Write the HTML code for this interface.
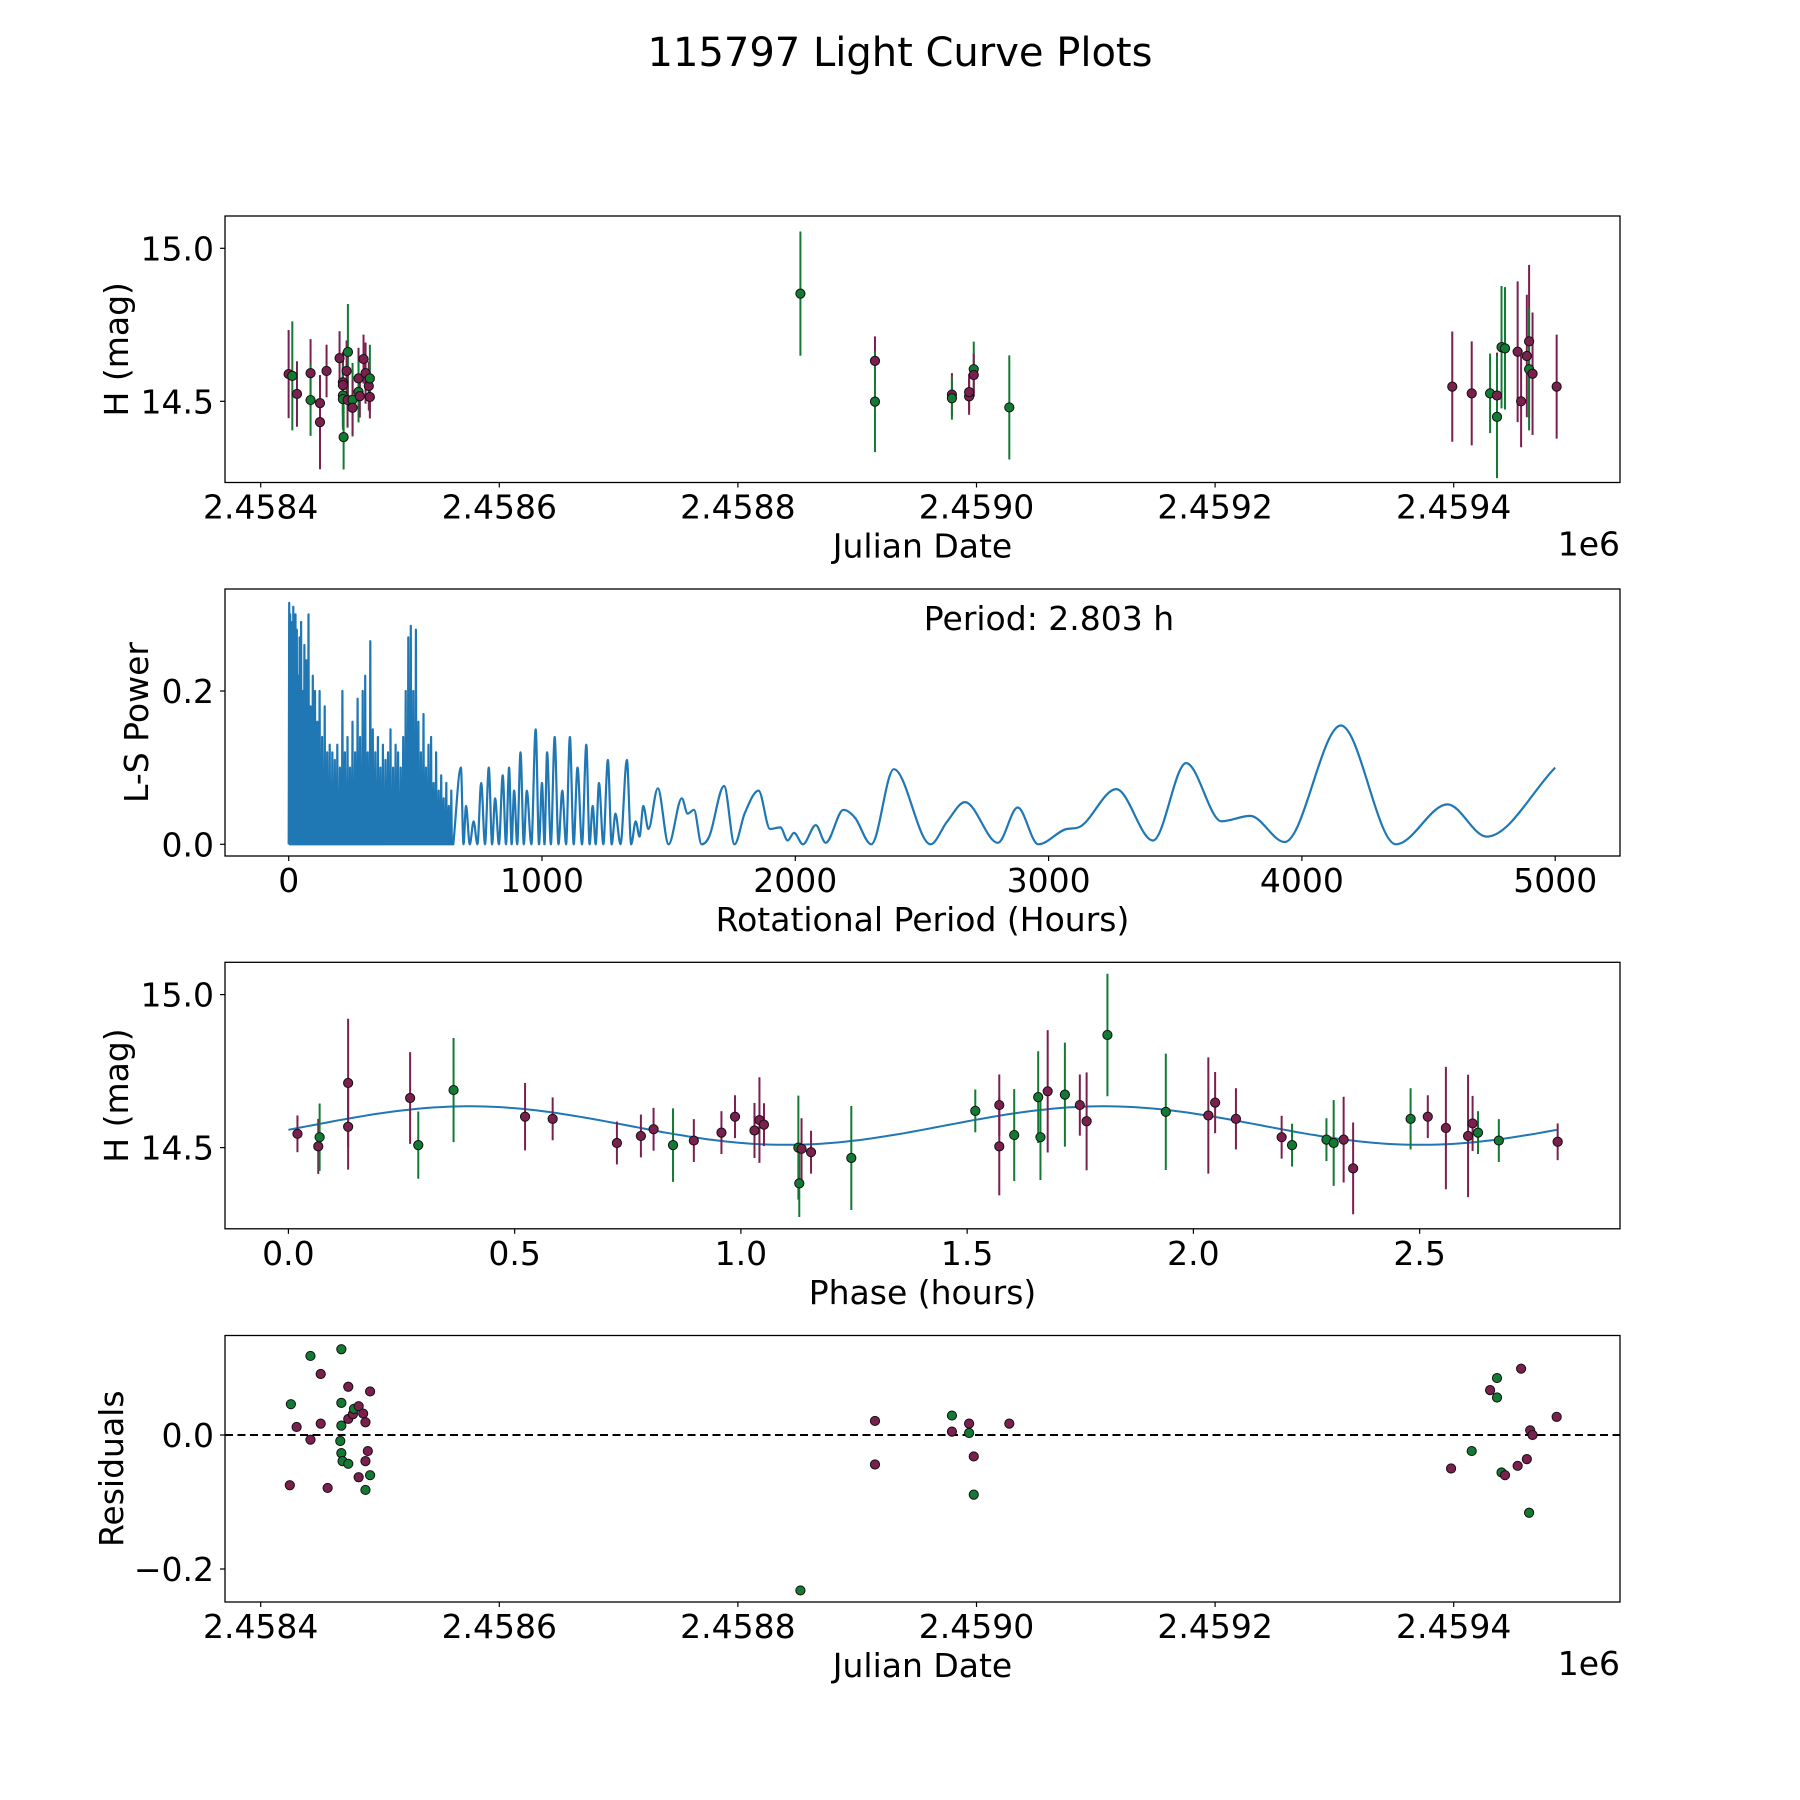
<!DOCTYPE html>
<html><head><meta charset="utf-8"><style>
html,body{margin:0;padding:0;background:#fff}
svg{display:block}
text{font-family:"DejaVu Sans","Liberation Sans",sans-serif;fill:#000}
</style></head><body>
<svg id="fig" xmlns="http://www.w3.org/2000/svg" width="1800" height="1800" viewBox="0 0 1800 1800">
<rect width="1800" height="1800" fill="#fff"/>
<text x="900" y="66" font-size="40" text-anchor="middle">115797 Light Curve Plots</text>
</svg>
<script>
// ---------- DATA ----------
// Panel 1: light curve (days since JD 2458400)
const lcDay = [23.4,26.5,30.4,41.8,41.8,49.7,49.7,55.2,66.1,68.9,68.9,68.9,68.9,69.5,73.1,72.0,72.8,77.0,77.0,82.0,82.0,83.1,86.2,87.9,90.6,91.5,91.5,
452.4,514.9,514.9,579.4,579.4,593.8,593.8,597.7,597.7,627.5,
998.8,1015.1,1030.5,1036.3,1036.3,1040.1,1043.0,1053.6,1056.5,1061.3,1063.2,1063.2,1066.1,1086.3];
const lcMag = [14.589,14.583,14.524,14.592,14.504,14.494,14.432,14.599,14.641,14.562,14.553,14.519,14.507,14.383,14.661,14.599,14.504,14.505,14.479,14.575,14.531,14.517,14.638,14.592,14.550,14.575,14.514,
14.852,14.632,14.499,14.522,14.510,14.516,14.530,14.605,14.586,14.480,
14.548,14.526,14.526,14.519,14.449,14.677,14.673,14.662,14.5,14.648,14.696,14.605,14.590,14.548];
const lcErr = [0.144,0.178,0.107,0.111,0.117,0.09,0.154,0.086,0.088,0.1,0.1,0.1,0.1,0.106,0.157,0.1,0.09,0.12,0.09,0.1,0.1,0.07,0.08,0.1,0.08,0.11,0.07,
0.203,0.08,0.165,0.07,0.07,0.06,0.06,0.09,0.07,0.17,
0.18,0.17,0.13,0.14,0.2,0.2,0.2,0.23,0.15,0.2,0.25,0.2,0.2,0.17];
const lcBand = "mgmmgmmmmmmggggmmgmmgmmmmgmgmgmgmmgmgmmgmgggmmmmgmm";

// Panel 2: Lomb-Scargle periodogram
const denseP = [2,6,10,14,18,22,27,32,37,43,49,55,62,70,78,86,95,104,113,122,132,142,152,162,172,182,192,202,212,222,232,242,252,262,272,282,292,302,312,322,332,342,352,362,372,382,392,402,412,422,432,442,452,462,472,482,492,502,512,522,532,542,552,562,572,582,592,602,612,622,632,642];
const denseW = [0.315,0.30,0.29,0.27,0.31,0.25,0.30,0.28,0.22,0.27,0.29,0.20,0.26,0.24,0.30,0.18,0.22,0.20,0.16,0.20,0.14,0.18,0.12,0.13,0.12,0.11,0.13,0.10,0.20,0.12,0.14,0.10,0.16,0.12,0.19,0.14,0.20,0.22,0.12,0.265,0.15,0.12,0.14,0.10,0.13,0.11,0.12,0.15,0.10,0.13,0.12,0.10,0.14,0.20,0.27,0.285,0.20,0.28,0.16,0.12,0.17,0.10,0.13,0.14,0.08,0.12,0.07,0.09,0.06,0.08,0.05,0.07];
const lsPeriod = [650,680,690,700,715,730,745,760,775,790,803,815,830,845,858,870,880,890,902,915,928,940,958,975,988,1000,1010,1020,1035,1050,1065,1080,1095,1110,1125,1140,1158,1175,1188,1200,1212,1225,1242,1260,1275,1290,1310,1335,1352,1370,1385,1400,1420,1457,1500,1552,1575,1600,1630,1660,1719,1760,1800,1855,1900,1941,1970,1995,2030,2081,2120,2190,2235,2300,2389,2534,2600,2670,2800,2878,2959,3072,3118,3267,3412,3543,3683,3796,3932,4154,4371,4575,4729,5000];
const lsPower = [0,0.10,0,0.05,0,0.03,0,0.08,0,0.10,0,0.06,0,0.09,0,0.10,0,0.07,0,0.12,0,0.07,0,0.15,0,0.08,0,0.12,0,0.14,0,0.07,0,0.14,0,0.10,0,0.13,0,0.05,0,0.08,0,0.11,0,0.04,0,0.11,0,0.03,0.01,0.05,0.02,0.073,0,0.06,0.04,0.045,0,0.01,0.076,0,0.04,0.07,0.02,0.022,0.005,0.015,0,0.025,0.002,0.045,0.035,0,0.098,0,0.03,0.055,0.002,0.048,0,0.02,0.022,0.072,0.005,0.106,0.03,0.037,0.003,0.155,0,0.052,0.01,0.10];
const bestPeriod = 2.803;

// Panel 3: phase-folded
const phHour = [0.020,0.066,0.069,0.132,0.132,0.269,0.287,0.365,0.523,0.584,0.726,0.779,0.807,0.850,0.896,0.957,0.987,1.030,1.041,1.051,1.127,1.134,1.129,1.155,1.244,1.518,1.571,1.571,1.604,1.657,1.662,1.678,1.716,1.749,1.764,1.810,1.939,2.033,2.048,2.094,2.195,2.218,2.294,2.310,2.332,2.353,2.480,2.518,2.558,2.607,2.617,2.629,2.675,2.805];
const phMag = [14.545,14.504,14.534,14.711,14.568,14.662,14.508,14.688,14.601,14.594,14.515,14.538,14.560,14.508,14.523,14.549,14.601,14.556,14.590,14.575,14.5,14.496,14.383,14.485,14.466,14.620,14.639,14.504,14.541,14.665,14.534,14.684,14.673,14.639,14.586,14.868,14.617,14.605,14.647,14.594,14.534,14.508,14.526,14.515,14.526,14.432,14.594,14.601,14.564,14.538,14.579,14.549,14.523,14.519];
const phErr = [0.06,0.09,0.11,0.21,0.14,0.15,0.11,0.17,0.11,0.07,0.07,0.07,0.07,0.12,0.07,0.07,0.07,0.09,0.14,0.07,0.17,0.1,0.11,0.07,0.17,0.07,0.1,0.16,0.15,0.15,0.14,0.2,0.17,0.1,0.16,0.2,0.19,0.19,0.1,0.1,0.07,0.07,0.07,0.14,0.14,0.15,0.1,0.07,0.2,0.2,0.09,0.07,0.07,0.06];
const phBand = "mmgmmmggmmmmmgmmmmmmgmgmggmmgggmgmmggmmmmgggmmgmmmmggm";
const modelMean = 14.572, modelAmp = 0.063, modelPeak = 0.4;

// Panel 4: residuals
const resDay = [25.3,24.4,30.1,41.7,41.7,50.3,50.3,56.1,67.6,67.6,67.6,66.7,67.6,68.6,73.4,73.4,73.4,77.3,78.2,82.1,82.1,85.9,87.8,87.8,87.8,89.8,91.7,91.7,452.4,514.9,514.9,579.4,579.4,593.8,593.8,597.7,597.7,627.5,997.8,1015.1,1030.5,1036.3,1036.3,1040.1,1043.0,1053.6,1056.5,1061.3,1063.2,1064.1,1066.1,1086.3];
const resVal = [0.046,-0.075,0.012,0.118,-0.007,0.091,0.017,-0.079,0.128,0.048,0.014,-0.009,-0.027,-0.039,0.072,0.024,-0.043,0.031,0.039,0.043,-0.063,0.032,0.019,-0.039,-0.082,-0.024,0.065,-0.06,-0.232,0.021,-0.044,0.029,0.005,0.017,0.003,-0.032,-0.089,0.017,-0.05,-0.024,0.067,0.085,0.056,-0.056,-0.06,-0.046,0.099,-0.036,-0.116,0.007,0,0.027];
const resBand = "gmmgmmmmggggggmmgmgmmmmmgmmggmmgmmgmgmmgmgggmmmmgmm";

const jdTicks = [2458400,2458600,2458800,2459000,2459200,2459400];
const jdTickLabels = ["2.4584","2.4586","2.4588","2.4590","2.4592","2.4594"];
const magTicks = [14.5,15.0];
const magTickLabels = ["14.5","15.0"];
const lsXTicks = [0,1000,2000,3000,4000,5000];
const lsYTicks = [0,0.2];
const lsYTickLabels = ["0.0","0.2"];
const phTicks = [0,0.5,1,1.5,2,2.5];
const phTickLabels = ["0.0","0.5","1.0","1.5","2.0","2.5"];
const resTicks = [-0.2,0];
const resTickLabels = ["\u22120.2","0.0"];

// ---------- DRAW ----------
const NS="http://www.w3.org/2000/svg";
const svg=document.getElementById('fig');
const MAG="#7b1f4f", GRN="#127a33", BLUE="#1f77b4";
const FS=33;
function mk(tag,attrs,parent){const e=document.createElementNS(NS,tag);for(const k in attrs)e.setAttribute(k,attrs[k]);(parent||svg).appendChild(e);return e;}
const L=225,R=1620;
function lin(d0,d1,p0,p1){return v=>p0+(v-d0)*(p1-p0)/(d1-d0);}

function frame(g,top,bot){
  const r=mk('rect',{x:L,y:top,width:R-L,height:bot-top,fill:'none',stroke:'#000','stroke-width':1.3},g);
  
  
}
function xTicks(g,bot,vals,labels,sx,name){
  vals.forEach((v,i)=>{
    const x=sx(v);
    const t=mk('line',{x1:x,x2:x,y1:bot,y2:bot+5,stroke:'#000','stroke-width':1.2},g);
    
    
    const tx=mk('text',{x:x,y:bot+36,'font-size':FS,'text-anchor':'middle'},g);
    tx.textContent=labels[i];
    
    
  });
}
function yTicks(g,vals,labels,sy,name){
  vals.forEach((v,i)=>{
    const y=sy(v);
    const t=mk('line',{x1:L-5,x2:L,y1:y,y2:y,stroke:'#000','stroke-width':1.2},g);
    
    
    const tx=mk('text',{x:L-11,y:y+12,'font-size':FS,'text-anchor':'end'},g);
    tx.textContent=labels[i];
    
    
  });
}
function label(g,x,y,txt,name,rot){
  const t=mk('text',{x:x,y:y,'font-size':FS,'text-anchor':'middle'},g);
  if(rot)t.setAttribute('transform','rotate(-90 '+x+' '+y+')');
  t.textContent=txt;
  
  
}
function pt(g,x,y,band,name){
  const c=mk('circle',{cx:x,cy:y,r:4.6,fill:band==='g'?GRN:MAG,stroke:'#111','stroke-width':1},g);
  
  
}
function ebar(g,x,y1,y2,band,name){
  const l=mk('line',{x1:x,x2:x,y1:y1,y2:y2,stroke:band==='g'?GRN:MAG,'stroke-width':2},g);
  
  
}

// Panel 1
(function(){
  const top=216,bot=482.5;
  const g=mk('g',{});
  
  
  const sx=lin(2458400,2458600,260.7,499.3);
  const sy=lin(14.5,15.0,401.3,248.3);
  lcDay.forEach((d,i)=>ebar(g,sx(2458400+d),sy(lcMag[i]-lcErr[i]),sy(lcMag[i]+lcErr[i]),lcBand[i],'light-curve-error-bar'));
  lcDay.forEach((d,i)=>pt(g,sx(2458400+d),sy(lcMag[i]),lcBand[i],'light-curve-point'));
  frame(g,top,bot);
  xTicks(g,bot,jdTicks,jdTickLabels,sx,'x-axis');
  yTicks(g,magTicks,magTickLabels,sy,'y-axis');
  label(g,(L+R)/2,bot+75,'Julian Date','x-axis-title');
  const o=mk('text',{x:R,y:bot+73,'font-size':FS,'text-anchor':'end'},g);o.textContent='1e6';
  
  
  label(g,128,(top+bot)/2,'H (mag)','y-axis-title',true);
})();

// Panel 2
(function(){
  const top=589,bot=856;
  const g=mk('g',{});
  
  
  const sx=lin(0,1000,288.7,542);
  const sy=lin(0,0.2,844.3,691);
  let d='';
  denseP.forEach((p,i)=>{d+=(i?'L':'M')+sx(p-2).toFixed(1)+' '+sy(0).toFixed(1)+'L'+sx(p).toFixed(1)+' '+sy(denseW[i]).toFixed(1)+'L'+sx(p+2).toFixed(1)+' '+sy(0).toFixed(1);});
  const xs=lsPeriod.map(sx), ys=lsPower.map(sy), n=xs.length;
  const dl=[],m=[];
  for(let i=0;i<n-1;i++)dl.push((ys[i+1]-ys[i])/(xs[i+1]-xs[i]));
  for(let i=0;i<n;i++){
    if(i===0)m.push(dl[0]);else if(i===n-1)m.push(dl[n-2]);
    else m.push(dl[i-1]*dl[i]<=0?0:(dl[i-1]+dl[i])/2);
  }
  for(let i=0;i<n-1;i++){if(dl[i]===0){m[i]=0;m[i+1]=0;}else{const a=m[i]/dl[i],b=m[i+1]/dl[i],s=a*a+b*b;if(s>9){const t=3/Math.sqrt(s);m[i]=t*a*dl[i];m[i+1]=t*b*dl[i];}}}
  d+='L'+xs[0].toFixed(1)+' '+ys[0].toFixed(1);
  for(let i=0;i<n-1;i++){const h=(xs[i+1]-xs[i])/3;d+='C'+(xs[i]+h).toFixed(1)+' '+(ys[i]+m[i]*h).toFixed(1)+' '+(xs[i+1]-h).toFixed(1)+' '+(ys[i+1]-m[i+1]*h).toFixed(1)+' '+xs[i+1].toFixed(1)+' '+ys[i+1].toFixed(1);}
  const p=mk('path',{d:d,fill:'none',stroke:BLUE,'stroke-width':2.2,'stroke-linejoin':'round'},g);
  
  
  frame(g,top,bot);
  xTicks(g,bot,lsXTicks,lsXTicks.map(String),sx,'x-axis');
  yTicks(g,lsYTicks,lsYTickLabels,sy,'y-axis');
  label(g,(L+R)/2,bot+75,'Rotational Period (Hours)','x-axis-title');
  label(g,148,(top+bot)/2,'L-S Power','y-axis-title',true);
  const t=mk('text',{x:1049,y:630,'font-size':FS,'text-anchor':'middle'},g);
  t.textContent='Period: '+bestPeriod.toFixed(3)+' h';
  
  
})();

// Panel 3
(function(){
  const top=962.3,bot=1228.8;
  const g=mk('g',{});
  
  
  const sx=lin(0,1,288.4,740.9);
  const sy=lin(14.5,15.0,1147.6,994.6);
  let d='';
  for(let k=0;k<=200;k++){const ph=bestPeriod*k/200;const v=modelMean+modelAmp*Math.cos(2*Math.PI*(ph-modelPeak)/(bestPeriod/2));d+=(k?'L':'M')+sx(ph).toFixed(1)+' '+sy(v).toFixed(1);}
  const mline=mk('path',{d:d,fill:'none',stroke:BLUE,'stroke-width':2},g);
  
  
  phHour.forEach((h,i)=>ebar(g,sx(h),sy(phMag[i]-phErr[i]),sy(phMag[i]+phErr[i]),phBand[i],'phase-error-bar'));
  phHour.forEach((h,i)=>pt(g,sx(h),sy(phMag[i]),phBand[i],'phase-point'));
  frame(g,top,bot);
  xTicks(g,bot,phTicks,phTickLabels,sx,'x-axis');
  yTicks(g,magTicks,magTickLabels,sy,'y-axis');
  label(g,(L+R)/2,bot+75,'Phase (hours)','x-axis-title');
  label(g,128,(top+bot)/2,'H (mag)','y-axis-title',true);
})();

// Panel 4
(function(){
  const top=1335.5,bot=1602;
  const g=mk('g',{});
  
  
  const sx=lin(2458400,2458600,260.7,499.3);
  const sy=lin(0,-0.2,1435,1569);
  const z=mk('line',{x1:L,x2:R,y1:sy(0),y2:sy(0),stroke:'#000','stroke-width':2,'stroke-dasharray':'8,4.5'},g);
  
  
  resDay.forEach((d,i)=>pt(g,sx(2458400+d),sy(resVal[i]),resBand[i],'residual-point'));
  frame(g,top,bot);
  xTicks(g,bot,jdTicks,jdTickLabels,sx,'x-axis');
  yTicks(g,resTicks,resTickLabels,sy,'y-axis');
  label(g,(L+R)/2,bot+75,'Julian Date','x-axis-title');
  const o=mk('text',{x:R,y:bot+73,'font-size':FS,'text-anchor':'end'},g);o.textContent='1e6';
  
  
  label(g,123,(top+bot)/2,'Residuals','y-axis-title',true);
})();
</script>
</body></html>
